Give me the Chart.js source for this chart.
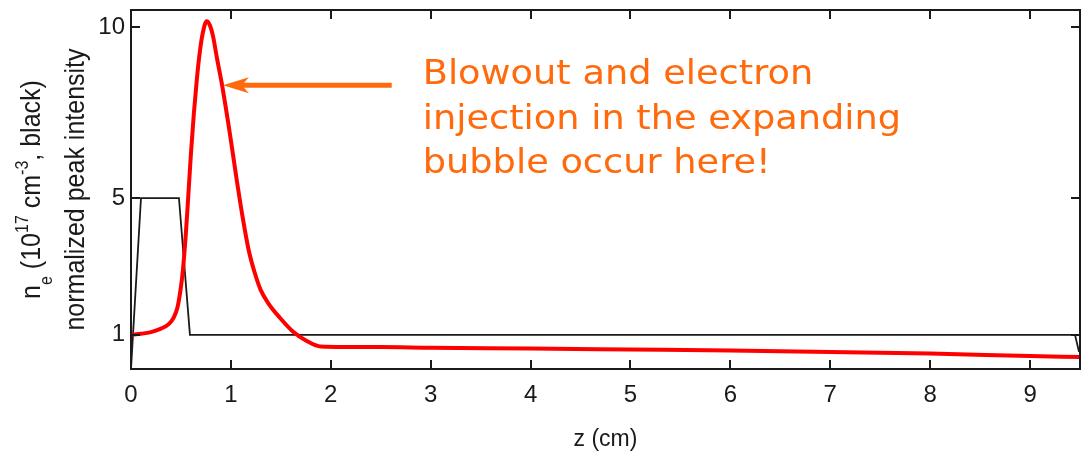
<!DOCTYPE html>
<html>
<head>
<meta charset="utf-8">
<script src="https://cdn.jsdelivr.net/npm/chart.js@4.4.0/dist/chart.umd.min.js"></script>
<style>
  html, body { margin: 0; padding: 0; background: #fff; }
  #wrap { width: 1083px; height: 453px; }
</style>
</head>
<body>
<div id="wrap"><canvas id="chart" width="1083" height="453"></canvas></div>
<script>
// red curve: normalized peak intensity vs z (cm)
const redZ = [0, 0.1, 0.2, 0.3, 0.38, 0.43, 0.465, 0.495, 0.52, 0.55, 0.57, 0.6, 0.63, 0.66, 0.69, 0.72, 0.757,
              0.79, 0.82, 0.86, 0.91, 0.99, 1.06, 1.12, 1.18, 1.24, 1.3, 1.38, 1.49, 1.62, 1.76, 1.9,
              2.5, 3, 4, 5, 6, 7, 8, 9, 9.5];
const redI = [1.0, 1.03, 1.08, 1.18, 1.32, 1.52, 1.8, 2.3, 2.9, 4.0, 4.9, 6.3, 7.5, 8.5, 9.3, 9.85, 10.17,
              10.05, 9.75, 9.1, 8.33, 6.88, 5.5, 4.4, 3.45, 2.8, 2.3, 1.9, 1.5, 1.1, 0.82, 0.66,
              0.64, 0.62, 0.6, 0.57, 0.54, 0.5, 0.45, 0.38, 0.35];

// black curve: plasma density profile
const blackZ = [0, 0.02, 0.1, 0.48, 0.59, 9.45, 9.49];
const blackN = [0, 1, 5, 5, 1, 1, 0.5];

const xTicks = [0, 1, 2, 3, 4, 5, 6, 7, 8, 9];
const yTicks = [1, 5, 10];

const noteLines = ['Blowout and electron', 'injection in the expanding', 'bubble occur here!'];
const arrowTip = { z: 0.92, v: 8.3 };
const arrowTail = { z: 2.61, v: 8.3 };

const INK = '#1a1a1a';
const ORANGE = '#ff6a0d';

function pts(xs, ys) {
    return xs.map((x, i) => ({ x: x, y: ys[i] }));
}

// box frame with inward ticks on all four sides
const frameTicks = {
    id: 'frameTicks',
    afterDatasetsDraw(chart) {
        const { ctx, chartArea: a, scales: { x, y } } = chart;
        ctx.save();
        ctx.strokeStyle = INK;
        ctx.lineWidth = 2;
        ctx.beginPath();
        xTicks.forEach(v => {
            const px = Math.round(x.getPixelForValue(v));
            ctx.moveTo(px, a.bottom); ctx.lineTo(px, a.bottom - 9);
            ctx.moveTo(px, a.top); ctx.lineTo(px, a.top + 9);
        });
        yTicks.forEach(v => {
            const py = Math.round(y.getPixelForValue(v));
            ctx.moveTo(a.left, py); ctx.lineTo(a.left + 9, py);
            ctx.moveTo(a.right, py); ctx.lineTo(a.right - 9, py);
        });
        ctx.stroke();
        ctx.strokeRect(a.left, a.top, a.right - a.left, a.bottom - a.top);
        ctx.restore();
    }
};

// rotated two-line y title with sub/superscripts
const yTitle = {
    id: 'yTitle',
    afterDraw(chart) {
        const { ctx, chartArea: a } = chart;
        const cy = (a.top + a.bottom) / 2;
        const big = '25px "Liberation Sans", Arial, sans-serif';
        const small = '16px "Liberation Sans", Arial, sans-serif';
        const segs = [
            { t: 'n', f: big, dy: 0 },
            { t: 'e', f: small, dy: 11 },
            { t: ' (10', f: big, dy: 0 },
            { t: '17', f: small, dy: -11 },
            { t: ' cm', f: big, dy: 0 },
            { t: '-3', f: small, dy: -11 },
            { t: ', black)', f: big, dy: 0 }
        ];
        ctx.save();
        ctx.fillStyle = INK;
        ctx.textBaseline = 'alphabetic';
        let w = 0;
        segs.forEach(s => { ctx.font = s.f; s.w = ctx.measureText(s.t).width; w += s.w; });
        ctx.translate(40, cy);
        ctx.rotate(-Math.PI / 2);
        ctx.scale(1, 1.12);
        let cx = -w / 2;
        segs.forEach(s => {
            ctx.font = s.f;
            ctx.fillText(s.t, cx, s.dy);
            cx += s.w;
        });
        ctx.restore();

        ctx.save();
        ctx.fillStyle = INK;
        ctx.font = big;
        ctx.textAlign = 'center';
        ctx.translate(84, cy);
        ctx.rotate(-Math.PI / 2);
        ctx.scale(1, 1.12);
        ctx.fillText('normalized peak intensity', 0, 0);
        ctx.restore();
    }
};

// orange arrow + note
const note = {
    id: 'note',
    afterDraw(chart) {
        const { ctx, scales: { x, y } } = chart;
        const tx = x.getPixelForValue(arrowTip.z), ty = y.getPixelForValue(arrowTip.v);
        const ex = x.getPixelForValue(arrowTail.z), ey = y.getPixelForValue(arrowTail.v);
        ctx.save();
        ctx.strokeStyle = ORANGE;
        ctx.fillStyle = ORANGE;
        ctx.lineWidth = 5;
        ctx.beginPath();
        ctx.moveTo(ex, ey);
        ctx.lineTo(tx + 18, ty);
        ctx.stroke();
        ctx.beginPath();
        ctx.moveTo(tx, ty);
        ctx.lineTo(tx + 26, ty - 8);
        ctx.lineTo(tx + 19, ty);
        ctx.lineTo(tx + 26, ty + 8);
        ctx.closePath();
        ctx.fill();

        ctx.font = '34px "DejaVu Sans", Verdana, sans-serif';
        ctx.textBaseline = 'alphabetic';
        noteLines.forEach((line, i) => {
            ctx.save();
            ctx.translate(ex + 31, ey - 1 + i * 44.5);
            ctx.scale(1.08, 1);
            ctx.fillText(line, 0, 0);
            ctx.restore();
        });
        ctx.restore();
    }
};

const tickFont = { family: '"Liberation Sans", Arial, sans-serif', size: 24 };

new Chart(document.getElementById('chart'), {
    type: 'line',
    data: {
        datasets: [
            {
                label: 'normalized peak intensity',
                data: pts(redZ, redI),
                borderColor: '#ff0000',
                borderWidth: 4,
                pointRadius: 0,
                cubicInterpolationMode: 'monotone',
                fill: false
            },
            {
                label: 'n_e',
                data: pts(blackZ, blackN),
                borderColor: INK,
                borderWidth: 1.8,
                pointRadius: 0,
                tension: 0,
                fill: false
            }
        ]
    },
    options: {
        responsive: false,
        animation: false,
        events: [],
        layout: { padding: { top: 10, right: 3, left: 0, bottom: 0 } },
        scales: {
            x: {
                type: 'linear',
                min: 0,
                max: 9.5,
                grid: { display: false, tickLength: 0 },
                border: { display: false },
                afterBuildTicks: s => { s.ticks = xTicks.map(v => ({ value: v })); },
                afterFit: s => { s.height = 84; s.paddingLeft = 0; s.paddingRight = 0; },
                ticks: { color: INK, font: tickFont, padding: 12, maxRotation: 0, callback: v => String(v) },
                title: {
                    display: true,
                    text: 'z (cm)',
                    color: INK,
                    font: { family: '"Liberation Sans", Arial, sans-serif', size: 23 },
                    padding: { top: 0, bottom: 0 }
                }
            },
            y: {
                type: 'linear',
                min: 0,
                max: 10.5,
                grid: { display: false, tickLength: 0 },
                border: { display: false },
                afterBuildTicks: s => { s.ticks = yTicks.map(v => ({ value: v })); },
                afterFit: s => { s.width = 131; s.paddingTop = 0; s.paddingBottom = 0; },
                ticks: { color: INK, font: tickFont, padding: 6, callback: v => String(v) }
            }
        },
        plugins: {
            legend: { display: false },
            tooltip: { enabled: false }
        }
    },
    plugins: [frameTicks, yTitle, note]
});
</script>
</body>
</html>
